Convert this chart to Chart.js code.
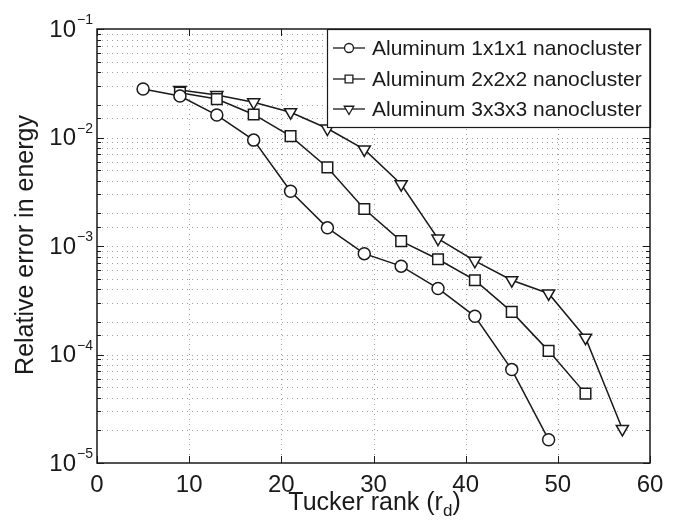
<!DOCTYPE html>
<html>
<head>
<meta charset="utf-8">
<title>Relative error in energy vs Tucker rank</title>
<script src="https://cdn.jsdelivr.net/npm/chart.js@4.4.1/dist/chart.umd.min.js"></script>
<style>
  html, body { margin: 0; padding: 0; background: #fff; }
  #chart { display: block; }
</style>
</head>
<body>
<canvas id="chart" width="683" height="521"></canvas>
<script>
// ── DATA ─────────────────────────────────────────────────────
var rank1 = [5, 9, 13, 17, 21, 25, 29, 33, 37, 41, 45, 49];
var err1  = [0.028, 0.0241, 0.0161, 0.00946, 0.0032, 0.00147, 0.00085, 0.000652, 0.000406, 0.000225, 7.26e-5, 1.64e-5];

var rank2 = [9, 13, 17, 21, 25, 29, 33, 37, 41, 45, 49, 53];
var err2  = [0.0259, 0.0226, 0.0163, 0.0103, 0.0053, 0.00219, 0.00111, 0.000755, 0.000484, 0.000247, 0.000108, 4.36e-5];

var rank3 = [9, 13, 17, 21, 25, 29, 33, 37, 41, 45, 49, 53, 57];
var err3  = [0.0274, 0.0246, 0.0211, 0.0171, 0.0121, 0.00776, 0.00371, 0.00117, 0.00073, 0.000484, 0.000365, 0.000143, 2.06e-5];

var seriesNames = ['Aluminum 1x1x1 nanocluster', 'Aluminum 2x2x2 nanocluster', 'Aluminum 3x3x3 nanocluster'];
var xTicks = [0, 10, 20, 30, 40, 50, 60];
var yDecades = [-1, -2, -3, -4, -5];

// ── HELPERS ──────────────────────────────────────────────────
var FONT = '"Liberation Sans", Arial, Helvetica, sans-serif';
var INK = '#1a1a1a';

function toPoints(xs, ys) {
  return xs.map(function (x, i) { return { x: x, y: ys[i] }; });
}

function lineSet(label, xs, ys, style, radius, rotation) {
  return {
    label: label,
    data: toPoints(xs, ys),
    borderColor: INK,
    borderWidth: 1.5,
    tension: 0,
    fill: false,
    pointStyle: style,
    pointRadius: radius,
    pointRotation: rotation || 0,
    pointBackgroundColor: '#fff',
    pointBorderColor: INK,
    pointBorderWidth: 1.5,
    pointHoverRadius: radius
  };
}

// ── GRID, BOX, LABELS, LEGEND ────────────────────────────────
var matlabAxes = {
  id: 'matlabAxes',
  beforeDatasetsDraw: function (chart) {
    var ctx = chart.ctx, a = chart.chartArea;
    var xs = chart.scales.x, ys = chart.scales.y;
    ctx.save();
    ctx.strokeStyle = 'rgba(0,0,0,0.38)';
    ctx.lineWidth = 1;
    ctx.setLineDash([1, 4]);
    xs.ticks.forEach(function (t) {
      var px = Math.round(xs.getPixelForValue(t.value)) + 0.5;
      if (px <= a.left + 1 || px >= a.right - 1) return;
      ctx.beginPath(); ctx.moveTo(px, a.top); ctx.lineTo(px, a.bottom); ctx.stroke();
    });
    ys.ticks.forEach(function (t) {
      var py = Math.round(ys.getPixelForValue(t.value)) + 0.5;
      if (py <= a.top + 1 || py >= a.bottom - 1) return;
      ctx.beginPath(); ctx.moveTo(a.left, py); ctx.lineTo(a.right, py); ctx.stroke();
    });
    ctx.restore();
  },
  afterDraw: function (chart) {
    var ctx = chart.ctx, a = chart.chartArea;
    var xs = chart.scales.x, ys = chart.scales.y;
    ctx.save();

    // inside tick marks
    ctx.strokeStyle = INK;
    ctx.lineWidth = 1;
    ys.ticks.forEach(function (t) {
      var py = Math.round(ys.getPixelForValue(t.value)) + 0.5;
      var major = Math.abs(Math.log10(t.value) - Math.round(Math.log10(t.value))) < 1e-6;
      var len = major ? 7 : 4;
      ctx.beginPath();
      ctx.moveTo(a.left, py); ctx.lineTo(a.left + len, py);
      ctx.moveTo(a.right, py); ctx.lineTo(a.right - len, py);
      ctx.stroke();
    });
    xs.ticks.forEach(function (t) {
      var px = Math.round(xs.getPixelForValue(t.value)) + 0.5;
      ctx.beginPath();
      ctx.moveTo(px, a.bottom); ctx.lineTo(px, a.bottom - 7);
      ctx.moveTo(px, a.top); ctx.lineTo(px, a.top + 7);
      ctx.stroke();
    });

    // y tick labels 10^n
    ctx.fillStyle = INK;
    yDecades.forEach(function (d) {
      var py = ys.getPixelForValue(Math.pow(10, d));
      ctx.font = '14px ' + FONT;
      var sup = '\u2212' + Math.abs(d);
      var ws = ctx.measureText(sup).width;
      ctx.font = '24px ' + FONT;
      var wb = ctx.measureText('10').width;
      var right = a.left - 4;
      ctx.textBaseline = 'middle';
      ctx.textAlign = 'left';
      ctx.fillText('10', right - ws - wb - 1, py + 1);
      ctx.font = '14px ' + FONT;
      ctx.textBaseline = 'alphabetic';
      ctx.fillText(sup, right - ws, py - 5);
    });

    // axis titles
    ctx.font = '25px ' + FONT;
    ctx.textBaseline = 'alphabetic';
    var t1 = 'Tucker rank (r', t2 = 'd', t3 = ')';
    var w1 = ctx.measureText(t1).width, w3 = ctx.measureText(t3).width;
    ctx.font = '17px ' + FONT;
    var w2 = ctx.measureText(t2).width;
    var cx = (a.left + a.right) / 2 + 1;
    var x0 = cx - (w1 + w2 + w3) / 2;
    var base = 510;
    ctx.font = '25px ' + FONT;
    ctx.textAlign = 'left';
    ctx.fillText(t1, x0, base);
    ctx.font = '17px ' + FONT;
    ctx.fillText(t2, x0 + w1, base + 6);
    ctx.font = '25px ' + FONT;
    ctx.fillText(t3, x0 + w1 + w2, base);

    ctx.save();
    ctx.translate(33, 245);
    ctx.rotate(-Math.PI / 2);
    ctx.textAlign = 'center';
    ctx.textBaseline = 'alphabetic';
    ctx.font = '25px ' + FONT;
    ctx.fillText('Relative error in energy', 0, 0);
    ctx.restore();

    // legend box
    var lx = 327, ly = a.top, lw = a.right - lx, lh = 98;
    ctx.fillStyle = '#fff';
    ctx.fillRect(lx, ly, lw, lh);
    ctx.strokeStyle = INK;
    ctx.lineWidth = 1.2;
    ctx.strokeRect(lx + 0.5, ly + 0.5, lw, lh);
    var rows = [48, 79, 109];
    chart.data.datasets.forEach(function (ds, i) {
      var yy = ly + (rows[i] - 29);
      ctx.strokeStyle = INK;
      ctx.lineWidth = 1.3;
      ctx.beginPath(); ctx.moveTo(333, yy); ctx.lineTo(365, yy); ctx.stroke();
      ctx.fillStyle = '#fff';
      Chart.helpers.drawPoint(ctx, {
        pointStyle: ds.pointStyle,
        radius: ds.pointStyle === 'circle' ? 4.5 : 5.5,
        rotation: ds.pointRotation,
        borderWidth: 1.3
      }, 349, yy);
      ctx.fillStyle = INK;
      ctx.font = '21px ' + FONT;
      ctx.textAlign = 'left';
      ctx.textBaseline = 'middle';
      ctx.fillText(ds.label, 372, yy + 1);
    });

    // axes box
    ctx.strokeStyle = INK;
    ctx.lineWidth = 1.5;
    ctx.strokeRect(a.left, a.top, a.right - a.left, a.bottom - a.top);
    ctx.restore();
  }
};

// ── CHART ────────────────────────────────────────────────────
new Chart(document.getElementById('chart'), {
  type: 'line',
  data: {
    datasets: [
      lineSet(seriesNames[0], rank1, err1, 'circle', 6, 0),
      lineSet(seriesNames[1], rank2, err2, 'rect', 7.5, 0),
      lineSet(seriesNames[2], rank3, err3, 'triangle', 7, 180)
    ]
  },
  options: {
    responsive: false,
    animation: false,
    devicePixelRatio: 1,
    layout: { padding: { top: 29, right: 33, bottom: 0, left: 0 } },
    plugins: { legend: { display: false }, tooltip: { enabled: false } },
    scales: {
      x: {
        type: 'linear',
        min: xTicks[0],
        max: xTicks[xTicks.length - 1],
        afterBuildTicks: function (s) { s.ticks = xTicks.map(function (v) { return { value: v }; }); },
        afterFit: function (s) { s.height = 58; },
        grid: { display: false, drawTicks: false },
        border: { display: false },
        ticks: { font: { size: 24, family: FONT }, color: INK, padding: 8, maxRotation: 0 }
      },
      y: {
        type: 'logarithmic',
        min: 1e-5,
        max: 1e-1,
        afterFit: function (s) { s.width = 97; },
        grid: { display: false, drawTicks: false },
        border: { display: false },
        ticks: { display: false, autoSkip: false }
      }
    }
  },
  plugins: [matlabAxes]
});
</script>
</body>
</html>
